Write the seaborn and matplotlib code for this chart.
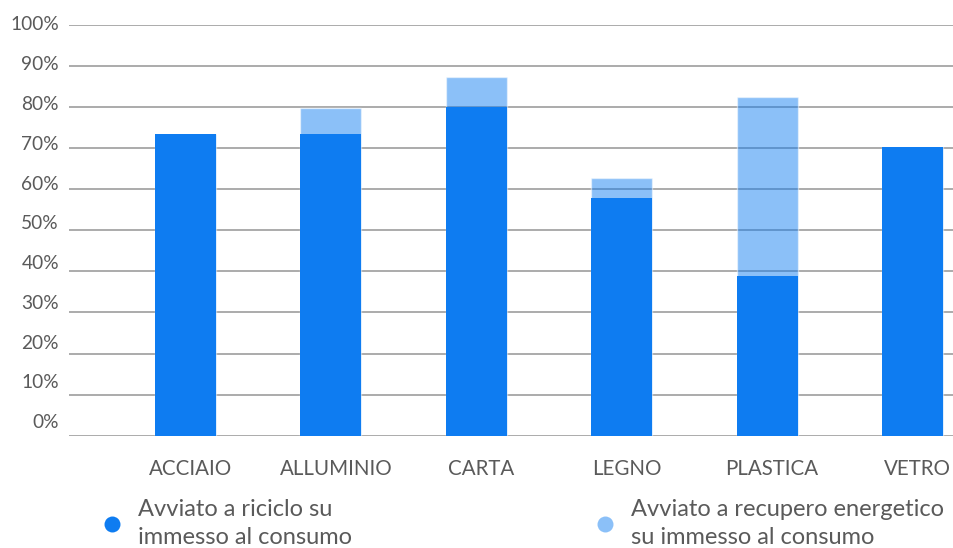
import matplotlib
matplotlib.use("Agg")
import matplotlib.pyplot as plt
import matplotlib.transforms as mtransforms
from matplotlib.lines import Line2D
import seaborn as sns
import pandas as pd
import numpy as np

categories = ["ACCIAIO", "ALLUMINIO", "CARTA", "LEGNO", "PLASTICA", "VETRO"]
riciclo = [73.3, 73.3, 80.0, 57.8, 38.9, 70.2]
recupero = [0.0, 6.5, 7.2, 4.9, 43.4, 0.0]
y_ticks = [0, 10, 20, 30, 40, 50, 60, 70, 80, 90, 100]
label_riciclo = "Avviato a riciclo su\nimmesso al consumo"
label_recupero = "Avviato a recupero energetico\nsu immesso al consumo"

DARK = "#0E7CF1"
TEXT = "#5A5A5A"
GRID = "#ABABAB"

sns.set_theme(style="white")
plt.rcParams["font.family"] = ["Lato", "DejaVu Sans"]

df = pd.DataFrame({
    "cat": categories,
    "riciclo": riciclo,
    "totale": np.array(riciclo) + np.array(recupero),
})

W, H = 954, 548
fig = plt.figure(figsize=(W / 100, H / 100), dpi=100)
ax = fig.add_axes([69 / W, (H - 435.7) / H, (W - 69) / W, (435.7 - 24.7) / H])

sns.barplot(data=df, x="cat", y="totale", color=DARK, alpha=0.48, width=0.42,
            saturation=1, ax=ax, zorder=2, edgecolor=(1, 1, 1, 0.5), linewidth=1)
sns.barplot(data=df, x="cat", y="riciclo", color=DARK, width=0.42,
            saturation=1, ax=ax, zorder=3, linewidth=0)

ax.set_ylim(0, 100)
ax.set_xlim(-0.801, 5.285)
ax.set_yticks(y_ticks)
ax.set_yticklabels([])
ax.yaxis.grid(True, color=GRID, lw=1.4, zorder=1)
ax.set_axisbelow(True)
ax.set_xlabel("")
ax.set_ylabel("")
for s in ax.spines.values():
    s.set_visible(False)
ax.tick_params(axis="both", length=0)
ax.tick_params(axis="x", pad=16.5, labelsize=14.8, labelcolor=TEXT)
shift = mtransforms.ScaledTranslation(5 / 100, 0, fig.dpi_scale_trans)
for lbl in ax.get_xticklabels():
    lbl.set_transform(lbl.get_transform() + shift)

# y tick labels
for i, v in enumerate(y_ticks):
    ypx = 422.7 - i * 39.77
    fig.text(59 / W, 1 - ypx / H, f"{v}%", ha="right", va="center",
             fontsize=13.8, color=TEXT)

# legends
fs = 17
for x_dot, lab, alpha in [(112, label_riciclo, 1.0), (605, label_recupero, 0.48)]:
    h = Line2D([], [], marker="o", ls="", color=DARK, alpha=alpha,
               markersize=11.5, markeredgewidth=0)
    left = x_dot - fs * 1.389 / 2
    leg = fig.legend([h], [lab], loc="center left",
                     bbox_to_anchor=(left / W, 1 - 523.5 / H),
                     frameon=False, borderpad=0, borderaxespad=0,
                     handlelength=1, handletextpad=0.62, fontsize=fs,
                     labelcolor=TEXT)
    for t in leg.get_texts():
        t.set_linespacing(1.42)

fig.savefig("out.png", dpi=100)
